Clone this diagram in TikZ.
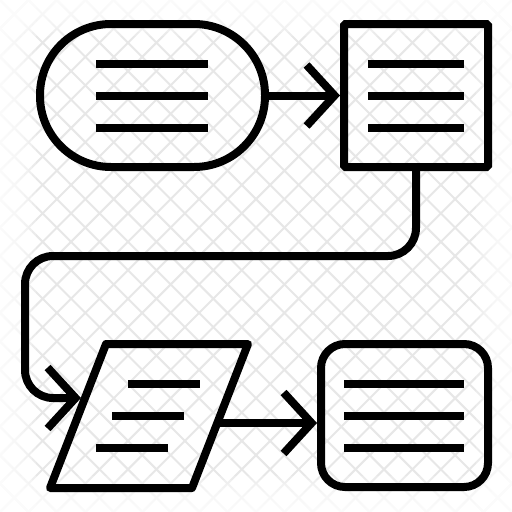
\documentclass[tikz,border=0pt]{standalone}
\usetikzlibrary{arrows.meta}
\definecolor{gridgray}{RGB}{231,231,231}
\begin{document}
\begin{tikzpicture}[x=1pt,y=-1pt,
  box/.style={draw=black, line width=8pt, inner sep=0pt, outer sep=4pt},
  bar/.style={draw=black, line width=7.6pt},
  conn/.style={draw=black, line width=8pt, -{Straight Barb[length=28pt,width=61pt]}},
  gridline/.style={draw=gridgray, line width=2pt},
  fadestrip/.style={fill=white, fill opacity=0.2}]
\useasboundingbox (0,0) rectangle (512,512);
\fill[white] (0,0) rectangle (512,512);
% background lattice
\begin{scope}
\clip (0,0) rectangle (512,512);
\foreach \i in {-18,...,18} \draw[gridline] (\i*28.4444,0) -- (\i*28.4444+512,512);
\foreach \i in {0,...,36} \draw[gridline] (\i*28.4444,0) -- (\i*28.4444-512,512);
\foreach \w in {4,8,...,36} {
  \fill[fadestrip] (0,0) rectangle (\w,512);
  \fill[fadestrip] (512-\w,0) rectangle (512,512);
  \fill[fadestrip] (0,0) rectangle (512,\w);
  \fill[fadestrip] (0,512-\w) rectangle (512,512);
}
\end{scope}
% shapes
\node[box, rounded corners=71pt, minimum width=225pt, minimum height=143pt] (term) at (152.5,95.5) {};
\node[box, rounded corners=1.5pt, minimum width=144pt, minimum height=143pt] (proc) at (416,95.5) {};
\node[box, rounded corners=24pt, minimum width=167pt, minimum height=143pt] (term2) at (404.5,415.5) {};
\draw[black, line width=8pt, line join=round] (106,344) -- (248,344) -- (192,488) -- (50,488) -- cycle;
\coordinate (dataL) at (81,398);
\coordinate (dataR) at (217,423);
% text bars
\foreach \y in {64,96,128} {
  \draw[bar] (96,\y) -- (208,\y);
  \draw[bar] (368,\y) -- (464,\y);
}
\foreach \y in {384,416,448} \draw[bar] (344,\y) -- (464,\y);
\draw[bar] (128,384) -- (200,384);
\draw[bar] (112,416) -- (184,416);
\draw[bar] (96,448) -- (168,448);
% connectors
\draw[conn] (term.east) -- (proc.west);
\draw[conn, rounded corners=28pt] (proc.south) -- (416,256) -- (25,256) -- (25,398) -- (dataL);
\draw[conn] (dataR) -- (dataR -| term2.west);
\end{tikzpicture}
\end{document}
